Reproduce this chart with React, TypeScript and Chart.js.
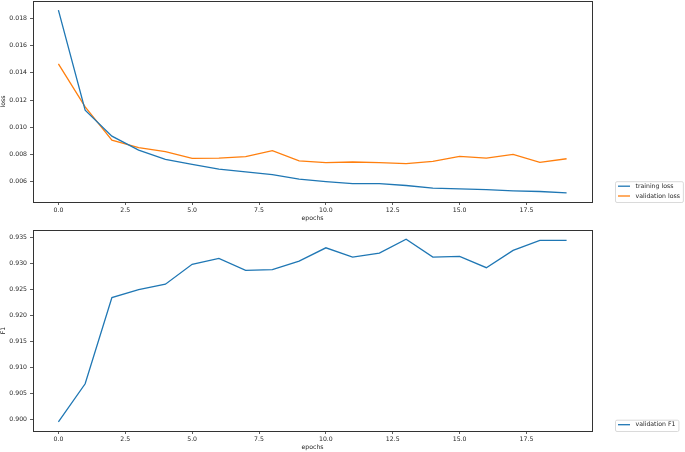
import React, { useEffect, useRef } from "react";
import { Chart, registerables } from "chart.js";

Chart.register(...registerables);

const epochs = [0, 1, 2, 3, 4, 5, 6, 7, 8, 9, 10, 11, 12, 13, 14, 15, 16, 17, 18, 19];
const trainingLoss = [0.01861, 0.01125, 0.00934, 0.00832, 0.00764, 0.00727, 0.00691, 0.00671, 0.00651, 0.00618, 0.006, 0.00585, 0.00585, 0.00571, 0.00552, 0.00547, 0.00541, 0.00532, 0.00527, 0.00517];
const validationLoss = [0.01466, 0.01149, 0.00905, 0.00849, 0.0082, 0.00771, 0.00773, 0.00783, 0.00827, 0.00752, 0.00739, 0.00744, 0.00739, 0.00732, 0.00749, 0.00786, 0.00773, 0.008, 0.00741, 0.00768];
const validationF1 = [0.8995, 0.90685, 0.92348, 0.925, 0.92605, 0.9299, 0.93104, 0.92874, 0.92886, 0.93052, 0.93308, 0.93129, 0.93206, 0.93475, 0.93129, 0.93142, 0.92924, 0.93257, 0.9345, 0.9345];

const xTicks = [0, 2.5, 5, 7.5, 10, 12.5, 15, 17.5];
const lossTicks = [0.006, 0.008, 0.01, 0.012, 0.014, 0.016, 0.018];
const f1Ticks = [0.9, 0.905, 0.91, 0.915, 0.92, 0.925, 0.93, 0.935];

const BLUE = "#1f77b4";
const ORANGE = "#ff7f0e";
const FONT = "'DejaVu Sans', sans-serif";
const FS = 6.2;
const TEXT = "#262626";

const W = 685;
const H = 226;

function range(vals: number[][]) {
  const all = vals.flat();
  const mn = Math.min(...all);
  const mx = Math.max(...all);
  const m = (mx - mn) * 0.05;
  return [mn - m, mx + m];
}

const framePlugin = {
  id: "frameAndLegend",
  afterDraw(chart: any) {
    const { ctx, chartArea } = chart;
    ctx.save();
    ctx.strokeStyle = "#333";
    ctx.lineWidth = 1;
    ctx.strokeRect(
      Math.round(chartArea.left) + 0.5,
      Math.round(chartArea.top) + 0.5,
      Math.round(chartArea.right - chartArea.left),
      Math.round(chartArea.bottom - chartArea.top)
    );
    // legend (matplotlib-like, outside at lower right)
    const ds = chart.data.datasets;
    ctx.font = `${FS}px ${FONT}`;
    const tw = Math.max(...ds.map((d: any) => ctx.measureText(d.label).width));
    const left = chartArea.right + 23;
    const rowH = 9.8;
    const boxH = ds.length * 9.5 + 1.8;
    const boxW = 3 + 12 + 5.5 + tw + 3;
    const top = chartArea.bottom - boxH;
    ctx.fillStyle = "rgba(255,255,255,0.8)";
    ctx.strokeStyle = "#d0d0d0";
    ctx.lineWidth = 0.8;
    ctx.beginPath();
    if ((ctx as any).roundRect) (ctx as any).roundRect(left + 0.5, top + 0.5, boxW, boxH, 1.5);
    else ctx.rect(left + 0.5, top + 0.5, boxW, boxH);
    ctx.fill();
    ctx.stroke();
    ds.forEach((d: any, i: number) => {
      const cy = top + 5 + i * rowH;
      ctx.strokeStyle = d.borderColor;
      ctx.lineWidth = 1.3;
      ctx.beginPath();
      ctx.moveTo(left + 3, cy);
      ctx.lineTo(left + 15, cy);
      ctx.stroke();
      ctx.fillStyle = TEXT;
      ctx.textBaseline = "middle";
      ctx.textAlign = "left";
      ctx.fillText(d.label, left + 20.5, cy);
    });
    ctx.restore();
  },
};

function makeConfig(
  datasets: { label: string; data: number[]; color: string }[],
  yTicks: number[],
  yTitle: string,
  padTop: number,
  xAxisH: number,
  titlePadBottom: number
): any {
  const [ymin, ymax] = range(datasets.map((d) => d.data));
  return {
    type: "line",
    data: {
      datasets: datasets.map((d) => ({
        label: d.label,
        data: epochs.map((e, i) => ({ x: e, y: d.data[i] })),
        borderColor: d.color,
        backgroundColor: d.color,
        borderWidth: 1.3,
        pointRadius: 0,
        tension: 0,
        fill: false,
      })),
    },
    options: {
      responsive: false,
      animation: false,
      events: [],
      layout: { padding: { left: 0, right: W - 592, top: padTop, bottom: 0 } },
      plugins: { legend: { display: false }, tooltip: { enabled: false } },
      scales: {
        x: {
          type: "linear",
          min: -0.95,
          max: 19.95,
          afterBuildTicks: (s: any) => {
            s.ticks = xTicks.map((v) => ({ value: v }));
          },
          afterFit: (s: any) => {
            s.height = xAxisH;
            s.paddingLeft = 0;
            s.paddingRight = 0;
          },
          grid: { display: true, drawOnChartArea: false, tickLength: 3, color: "#333", lineWidth: 0.8 },
          border: { display: false },
          ticks: {
            autoSkip: false,
            maxRotation: 0,
            padding: 2,
            color: TEXT,
            font: { family: FONT, size: FS },
            callback: (v: any) => Number(v).toFixed(1),
          },
          title: {
            display: true,
            text: "epochs",
            color: TEXT,
            font: { family: FONT, size: FS },
            padding: { top: 0, bottom: titlePadBottom },
          },
        },
        y: {
          type: "linear",
          min: ymin,
          max: ymax,
          afterBuildTicks: (s: any) => {
            s.ticks = yTicks.map((v) => ({ value: v }));
          },
          afterFit: (s: any) => {
            s.width = 33;
            s.paddingTop = 0;
            s.paddingBottom = 0;
          },
          grid: { display: true, drawOnChartArea: false, tickLength: 3, color: "#333", lineWidth: 0.8 },
          border: { display: false },
          ticks: {
            autoSkip: false,
            padding: 3,
            color: TEXT,
            font: { family: FONT, size: FS },
            callback: (v: any) => Number(v).toFixed(3),
          },
          title: {
            display: true,
            text: yTitle,
            color: TEXT,
            font: { family: FONT, size: FS },
            padding: { top: 0, bottom: 0 },
          },
        },
      },
    },
    plugins: [framePlugin],
  };
}

export default function App() {
  const topRef = useRef<HTMLCanvasElement>(null);
  const botRef = useRef<HTMLCanvasElement>(null);

  useEffect(() => {
    const c1 = new Chart(
      topRef.current!,
      makeConfig(
        [
          { label: "training loss", data: trainingLoss, color: BLUE },
          { label: "validation loss", data: validationLoss, color: ORANGE },
        ],
        lossTicks,
        "loss",
        1,
        24,
        3.4
      )
    );
    const c2 = new Chart(
      botRef.current!,
      makeConfig([{ label: "validation F1", data: validationF1, color: BLUE }], f1Ticks, "F1", 4, 21, 0.7)
    );
    return () => {
      c1.destroy();
      c2.destroy();
    };
  }, []);

  return (
    <div style={{ position: "absolute", left: 0, top: 0, width: W, height: 452, background: "#fff" }}>
      <canvas ref={topRef} width={W} height={H} style={{ display: "block", width: W, height: H }} />
      <canvas ref={botRef} width={W} height={H} style={{ display: "block", width: W, height: H }} />
    </div>
  );
}
